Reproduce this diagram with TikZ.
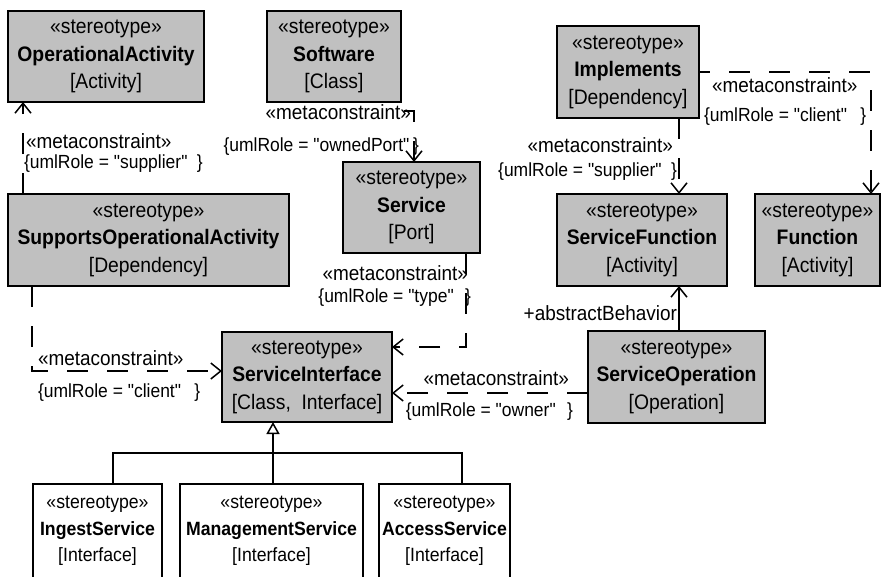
\documentclass[tikz,border=0pt]{standalone}
\usepackage{fontspec}
\setmainfont{Liberation Sans}[FakeStretch=0.92, Ligatures=TeXOff]
\usetikzlibrary{arrows.meta}
\definecolor{boxgray}{RGB}{192,192,192}

\begin{document}
\begin{tikzpicture}[x=1pt, y=-1pt,
  every node/.style={inner sep=0pt, outer sep=0pt},
  stereo/.style={draw=black, line width=1.5pt, fill=boxgray, align=center,
    font=\fontsize{21}{27.5}\selectfont},
  plainbox/.style={stereo, fill=white, font=\fontsize{19.2}{26.5}\selectfont},
  conn/.style={line width=1.5pt, dash pattern=on 21pt off 19pt,
    -{Straight Barb[length=10pt, width=16pt]}},
  assoc/.style={line width=1.5pt, -{Straight Barb[length=10pt, width=16pt]}},
  genline/.style={line width=1.5pt},
  lbl/.style={font=\fontsize{20.6}{22}\selectfont},
  role/.style={font=\fontsize{19}{20}\selectfont},
]
\useasboundingbox (0,0) rectangle (881,576);
\clip (0,0) rectangle (881,576);

% stereotype boxes
\node[stereo, minimum width=196pt, minimum height=91pt] (OA) at (106,56.5)
  {«stereotype»\\\textbf{OperationalActivity}\\{[Activity]}};
\node[stereo, minimum width=134pt, minimum height=91pt] (SW) at (334,56.5)
  {«stereotype»\\\textbf{Software}\\{[Class]}};
\node[stereo, minimum width=137pt, minimum height=91pt] (SV) at (411.5,207.5)
  {«stereotype»\\\textbf{Service}\\{[Port]}};
\node[stereo, minimum width=142pt, minimum height=92pt] (IM) at (628,72)
  {«stereotype»\\\textbf{Implements}\\{[Dependency]}};
\node[stereo, minimum width=170pt, minimum height=92pt] (SF) at (642,240)
  {«stereotype»\\\textbf{ServiceFunction}\\{[Activity]}};
\node[stereo, minimum width=125pt, minimum height=92pt] (FN) at (817.5,240)
  {«stereotype»\\\textbf{Function}\\{[Activity]}};
\node[stereo, minimum width=281pt, minimum height=92pt] (SOA) at (148.5,240)
  {«stereotype»\\\textbf{SupportsOperationalActivity}\\{[Dependency]}};
\node[stereo, minimum width=170pt, minimum height=90pt] (SI) at (307,377)
  {«stereotype»\\\textbf{ServiceInterface}\\{[Class,\ \ Interface]}};
\node[stereo, minimum width=177pt, minimum height=92pt] (SO) at (676.5,377)
  {«stereotype»\\\textbf{ServiceOperation}\\{[Operation]}};

% specialised interfaces
\node[plainbox, minimum width=129pt, minimum height=94pt] (IS) at (97.5,531)
  {«stereotype»\\\textbf{IngestService}\\{[Interface]}};
\node[plainbox, minimum width=183pt, minimum height=94pt] (MS) at (271.5,531)
  {«stereotype»\\\textbf{ManagementService}\\{[Interface]}};
\node[plainbox, minimum width=131pt, minimum height=94pt] (AS) at (444.5,531)
  {«stereotype»\\\textbf{AccessService}\\{[Interface]}};

% routing points
\coordinate (k1) at (23,0);
\coordinate (k2s) at (404,111);
\coordinate (k2) at (414,111);
\coordinate (k3) at (466,347);
\coordinate (k4) at (32,371);
\coordinate (k5) at (0,393);
\coordinate (k6) at (679,0);
\coordinate (k8) at (871,72);
\coordinate (gj) at (273,453);

% metaconstraint connectors
\draw[conn] (SOA.north -| k1) -- (OA.south -| k1);
\draw[conn] (k2s) -- (k2) -- (SV.north -| k2);
\draw[conn] (SV.south -| k3) -- (k3) -- (SI.east |- k3);
\draw[conn] (SOA.south -| k4) -- (k4) -- (SI.west |- k4);
\draw[conn] (SO.west |- k5) -- (SI.east |- k5);
\draw[conn] (IM.south -| k6) -- (SF.north -| k6);
\draw[conn, dash phase=10pt] (IM.east |- k8) -- (k8) -- (FN.north -| k8);

% association
\draw[assoc] (SO.north -| k6) -- (SF.south -| k6);

% generalization
\draw[genline] ([xshift=15.5pt]IS.north) |- (gj) -| ([xshift=17.5pt]AS.north);
\draw[genline, -{Triangle[open, length=12pt, width=13pt]}] (MS.north -| gj) -- (SI.south -| gj);

% connector labels
\node[lbl, anchor=west] (l1a) at (26,141) {«metaconstraint»};
\node[role, anchor=west] (l1b) at (24,164) {\{umlRole = "supplier"\hspace{0.5em}\}};
\node[lbl, anchor=east] (l2a) at (411,112) {«metaconstraint»};
\node[role, anchor=east] (l2b) at (419,147) {\{umlRole = "ownedPort"\hspace{0.2em}\}};
\node[lbl, anchor=east] (l3a) at (468,273) {«metaconstraint»};
\node[role, anchor=east] (l3b) at (471,298) {\{umlRole = "type"\hspace{0.6em}\}};
\node[lbl, anchor=west] (l4a) at (38,358) {«metaconstraint»};
\node[role, anchor=west] (l4b) at (38,393) {\{umlRole = "client"\hspace{0.7em}\}};
\node[lbl, anchor=east] (l5a) at (569,378) {«metaconstraint»};
\node[role, anchor=east] (l5b) at (573,412) {\{umlRole = "owner"\hspace{0.6em}\}};
\node[lbl, anchor=east] (l6) at (677,313) {+abstractBehavior};
\node[lbl, anchor=east] (l7a) at (673,145) {«metaconstraint»};
\node[role, anchor=east] (l7b) at (677,172) {\{umlRole = "supplier"\hspace{0.5em}\}};
\node[lbl, anchor=west] (l8a) at (712,85) {«metaconstraint»};
\node[role, anchor=west] (l8b) at (704,117) {\{umlRole = "client"\hspace{0.7em}\}};
\end{tikzpicture}
\end{document}
